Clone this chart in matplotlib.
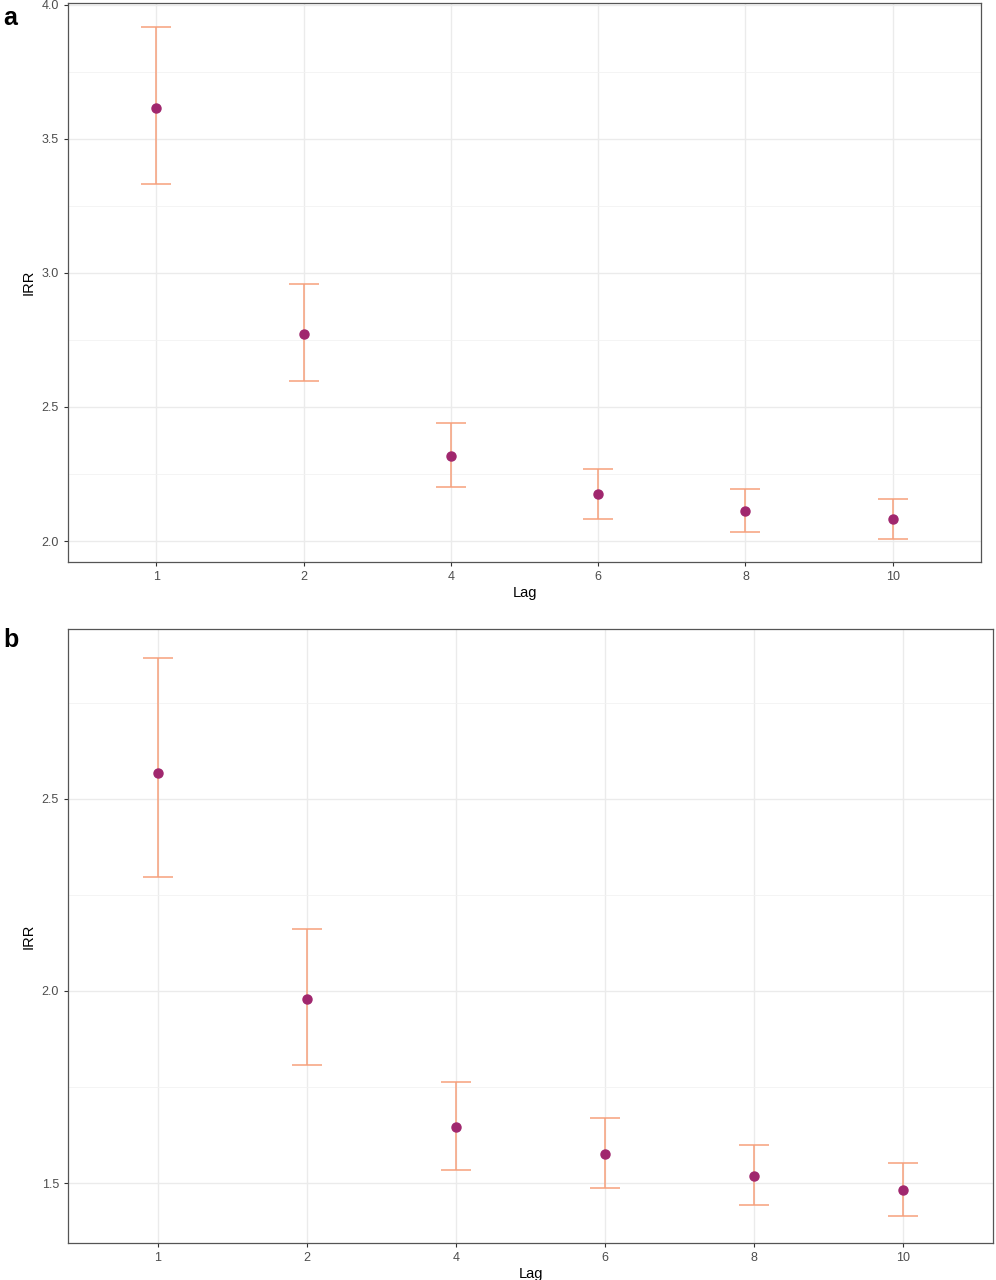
import numpy as np
import matplotlib
matplotlib.use('Agg')
import matplotlib.pyplot as plt
from matplotlib.ticker import MultipleLocator

plt.rcParams['font.family'] = ['Liberation Sans', 'DejaVu Sans']

lags = ['1', '2', '4', '6', '8', '10']

# panel a
irr_a = [3.616, 2.772, 2.317, 2.175, 2.112, 2.082]
low_a = [3.332, 2.597, 2.201, 2.082, 2.034, 2.007]
high_a = [3.918, 2.959, 2.440, 2.269, 2.194, 2.157]

# panel b
irr_b = [2.568, 1.979, 1.645, 1.575, 1.518, 1.482]
low_b = [2.297, 1.808, 1.534, 1.487, 1.443, 1.414]
high_b = [2.866, 2.161, 1.762, 1.669, 1.599, 1.552]

POINT = '#A0276E'
BAR = '#F6A07C'


def draw_panel(ax, irr, low, high, ylim):
    x = np.arange(len(lags))
    irr = np.array(irr)
    err = [irr - np.array(low), np.array(high) - irr]
    ax.errorbar(x, irr, yerr=err, fmt='none', ecolor=BAR, elinewidth=1.1,
                capsize=10.5, capthick=1.1, zorder=3)
    ax.plot(x, irr, 'o', color=POINT, markersize=6.5, zorder=4)
    ax.set_xticks(x)
    ax.set_xticklabels(lags)
    ax.set_xlim(-0.6, len(lags) - 0.4)
    ax.set_ylim(*ylim)
    ax.yaxis.set_major_locator(MultipleLocator(0.5))
    ax.yaxis.set_minor_locator(MultipleLocator(0.25))
    ax.grid(True, which='major', color='#EBEBEB', linewidth=1.0, zorder=0)
    ax.grid(True, which='minor', axis='y', color='#F2F2F2', linewidth=0.6, zorder=0)
    ax.tick_params(which='minor', length=0)
    ax.tick_params(which='major', length=3, width=0.8, color='#333333',
                   labelsize=9, labelcolor='#4D4D4D')
    for s in ax.spines.values():
        s.set_color('#555555')
        s.set_linewidth(0.9)
    ax.set_axisbelow(True)
    ax.set_xlabel('Lag', fontsize=10.5, labelpad=2)
    ax.set_ylabel('IRR', fontsize=10.5, labelpad=4)
    return ax


fig = plt.figure(figsize=(9.96, 12.8), dpi=100)
ax_a = fig.add_axes([0.0683, 0.561, 0.9167, 0.4367])
ax_b = fig.add_axes([0.0683, 0.0289, 0.9287, 0.4797])

draw_panel(ax_a, irr_a, low_a, high_a, (1.922, 4.007))
draw_panel(ax_b, irr_b, low_b, high_b, (1.344, 2.942))

fig.text(0.003, 0.986, 'a', fontsize=18, fontweight='bold', va='center', ha='left')
fig.text(0.003, 0.5, 'b', fontsize=18, fontweight='bold', va='center', ha='left')

fig.savefig('out.png', dpi=100)
